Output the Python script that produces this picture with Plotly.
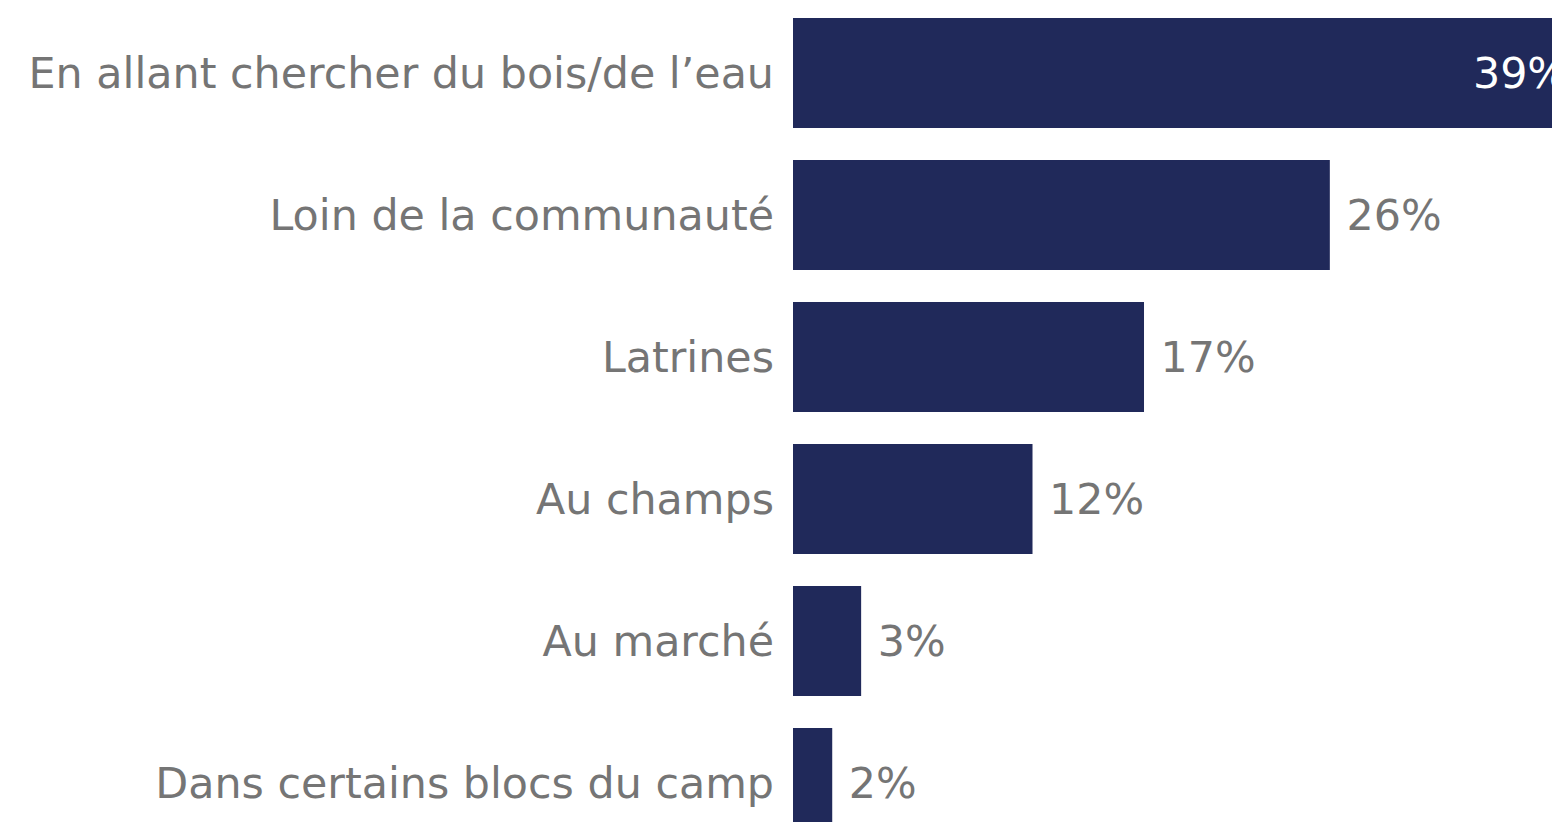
import plotly.graph_objects as go

categories = [
    "En allant chercher du bois/de l’eau",
    "Loin de la communauté",
    "Latrines",
    "Au champs",
    "Au marché",
    "Dans certains blocs du camp",
]
values = [39.0, 26.0, 17.0, 11.6, 3.3, 1.9]
value_labels = ["39%", "26%", "17%", "12%", "3%", "2%"]

BAR = "#20295A"
GREY = "#757575"
FONT = "DejaVu Sans"
SIZE = 42.8

# first bar runs off the right edge, its label sits inside (white)
positions = ["inside"] + ["outside"] * (len(values) - 1)
templates = ["%{text}  " if p == "inside" else " %{text}" for p in positions]

fig = go.Figure(
    go.Bar(
        x=values,
        y=categories,
        orientation="h",
        marker=dict(color=BAR, line=dict(width=0)),
        text=value_labels,
        texttemplate=templates,
        textposition=positions,
        textangle=0,
        constraintext="none",
        insidetextanchor="end",
        insidetextfont=dict(family=FONT, size=SIZE, color="white"),
        outsidetextfont=dict(family=FONT, size=SIZE, color=GREY),
        cliponaxis=True,
        hoverinfo="skip",
    )
)

fig.update_layout(
    width=1552,
    height=822,
    margin=dict(l=793, r=0, t=2, b=0, autoexpand=False),
    paper_bgcolor="white",
    plot_bgcolor="white",
    bargap=0.225,
    showlegend=False,
    font=dict(family=FONT, color=GREY),
    xaxis=dict(range=[0, 36.76], visible=False, fixedrange=True),
    yaxis=dict(
        type="category",
        categoryorder="array",
        categoryarray=categories,
        range=[5.275, -0.5],
        showgrid=False,
        showline=False,
        zeroline=False,
        ticks="",
        ticklabelstandoff=18,
        tickfont=dict(family=FONT, size=SIZE, color=GREY),
        fixedrange=True,
    ),
)

fig.write_html(
    "out.html",
    config={"displayModeBar": False},
    post_script="document.body.style.margin='0px';",
)
